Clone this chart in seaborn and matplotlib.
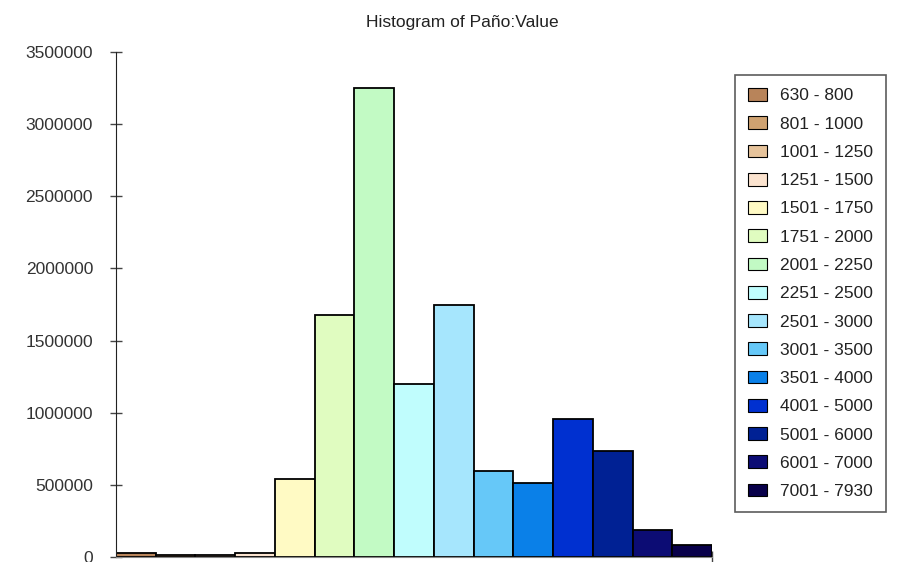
import numpy as np
import pandas as pd
import seaborn as sns
import matplotlib.pyplot as plt

bins = ["630 - 800", "801 - 1000", "1001 - 1250", "1251 - 1500", "1501 - 1750",
        "1751 - 2000", "2001 - 2250", "2251 - 2500", "2501 - 3000", "3001 - 3500",
        "3501 - 4000", "4001 - 5000", "5001 - 6000", "6001 - 7000", "7001 - 7930"]
counts = [25000, 12000, 12000, 28000, 540000, 1680000, 3250000, 1200000, 1750000,
          595000, 515000, 955000, 735000, 185000, 85000]
colors = ["#B8845A", "#CFA271", "#E6C39B", "#FBE3CF", "#FFFAC4", "#E0FCC0", "#C2FAC4",
          "#C0FDFD", "#A6E6FD", "#66C8F8", "#0A80E8", "#0030D0", "#002194", "#0C0C74",
          "#08004A"]

df = pd.DataFrame({"bin": bins, "count": counts})

sns.set_style("white")
plt.rcParams["font.family"] = ["Liberation Sans", "DejaVu Sans"]

fig = plt.figure(figsize=(8.98, 5.62), dpi=100)
ax = fig.add_axes([116 / 898, 5 / 562, 596 / 898, 505 / 562])

sns.barplot(data=df, x="bin", y="count", hue="bin", order=bins, hue_order=bins,
            palette=colors, dodge=False, width=1.0, edgecolor="black", linewidth=1.3,
            saturation=1, legend=True, ax=ax)

ax.set_xlim(-0.5, 14.5)
ax.set_ylim(0, 3500000)
ax.set_yticks(np.arange(0, 3500001, 500000))
ax.set_yticklabels([str(v) for v in range(0, 3500001, 500000)], fontsize=12.5, color="#333333")
ax.set_xticks([14.5])
ax.set_xticklabels([""])
ax.tick_params(axis="both", direction="inout", length=9, width=1, color="#444444",
               left=True, bottom=True, pad=12)
ax.set_xlabel("")
ax.set_ylabel("")
for s in ["top", "right"]:
    ax.spines[s].set_visible(False)
ax.spines["left"].set_color("#222222")
ax.spines["bottom"].set_color("#888888")

fig.text(462 / 898, 1 - 22 / 562, "Histogram of Paño:Value", ha="center", va="center",
         fontsize=12.5, color="#222222")

leg = ax.legend(loc="upper left", bbox_to_anchor=(735 / 898, 1 - 75 / 562),
                bbox_transform=fig.transFigure, borderaxespad=0, fontsize=12.5,
                fancybox=False, frameon=True, handlelength=1.1, handleheight=0.75,
                handletextpad=0.75, labelspacing=0.74, borderpad=0.75)
leg.get_frame().set_edgecolor("#333333")
leg.get_frame().set_linewidth(1.2)
for t in leg.get_texts():
    t.set_color("#222222")
for h in leg.legend_handles:
    h.set_edgecolor("black")
    h.set_linewidth(0.8)

fig.savefig("out.png", dpi=100)
